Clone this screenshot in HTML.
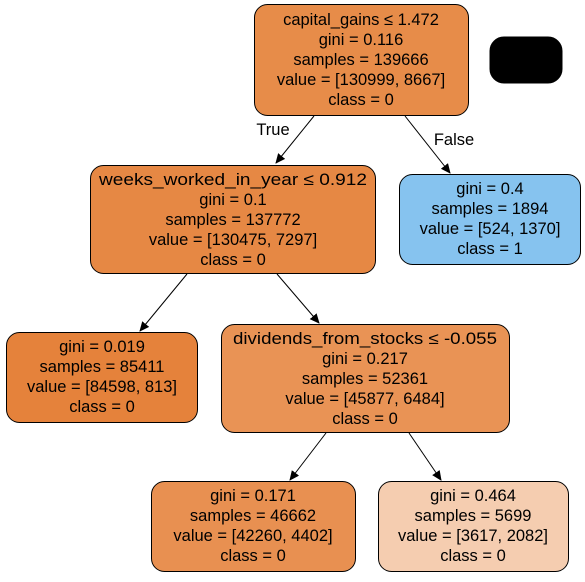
<!DOCTYPE html><html><head><style>body{margin:0;background:#fff}svg text{font-family:"Liberation Sans",Helvetica,sans-serif;font-size:16.5px;text-anchor:middle}</style></head><body>
<svg width="585" height="577" viewBox="0 0 585 577" xmlns="http://www.w3.org/2000/svg">
<defs><marker id="a" markerWidth="10" markerHeight="10" refX="9" refY="5" orient="auto" markerUnits="userSpaceOnUse"><path d="M0,0.5L10,5L0,9.5z" fill="#000"/></marker></defs>
<g stroke="#000" stroke-width="1">
<rect x="254.5" y="4.5" width="214" height="111" rx="13" fill="#e78c49"/>
<rect x="490" y="37" width="72" height="46" rx="14" fill="#000"/>
<rect x="90.5" y="165.5" width="285" height="108" rx="13" fill="#e68844"/>
<rect x="399.5" y="174.5" width="181" height="90" rx="13" fill="#86c3ef"/>
<rect x="6.5" y="332.5" width="191" height="90" rx="13" fill="#e5823b"/>
<rect x="221.5" y="324.5" width="288" height="108" rx="13" fill="#e99355"/>
<rect x="151.5" y="481.5" width="204" height="90" rx="13" fill="#e89051"/>
<rect x="378.5" y="481.5" width="190" height="90" rx="13" fill="#f5cdb0"/>
<line x1="314" y1="116" x2="276" y2="163" marker-end="url(#a)"/>
<line x1="405" y1="116" x2="450" y2="173" marker-end="url(#a)"/>
<line x1="187" y1="274" x2="140" y2="331" marker-end="url(#a)"/>
<line x1="277" y1="274" x2="319" y2="323" marker-end="url(#a)"/>
<line x1="326" y1="433" x2="290" y2="480" marker-end="url(#a)"/>
<line x1="409" y1="433" x2="441" y2="480" marker-end="url(#a)"/>
</g>
<text x="273" y="135">True</text><text x="454" y="145">False</text>
<text x="361"><tspan x="361" y="25">capital_gains ≤ 1.472</tspan><tspan x="361" y="45">gini = 0.116</tspan><tspan x="361" y="65">samples = 139666</tspan><tspan x="361" y="85">value = [130999, 8667]</tspan><tspan x="361" y="105">class = 0</tspan></text>
<text><tspan x="233" y="185" textLength="268" lengthAdjust="spacingAndGlyphs">weeks_worked_in_year ≤ 0.912</tspan><tspan x="233" y="205">gini = 0.1</tspan><tspan x="233" y="225">samples = 137772</tspan><tspan x="233" y="245">value = [130475, 7297]</tspan><tspan x="233" y="265">class = 0</tspan></text>
<text><tspan x="490" y="194">gini = 0.4</tspan><tspan x="490" y="214">samples = 1894</tspan><tspan x="490" y="234">value = [524, 1370]</tspan><tspan x="490" y="254">class = 1</tspan></text>
<text><tspan x="102" y="352">gini = 0.019</tspan><tspan x="102" y="372">samples = 85411</tspan><tspan x="102" y="392">value = [84598, 813]</tspan><tspan x="102" y="412">class = 0</tspan></text>
<text><tspan x="365" y="344" textLength="264" lengthAdjust="spacingAndGlyphs">dividends_from_stocks ≤ -0.055</tspan><tspan x="365" y="364">gini = 0.217</tspan><tspan x="365" y="384">samples = 52361</tspan><tspan x="365" y="404">value = [45877, 6484]</tspan><tspan x="365" y="424">class = 0</tspan></text>
<text><tspan x="253" y="501">gini = 0.171</tspan><tspan x="253" y="521">samples = 46662</tspan><tspan x="253" y="541">value = [42260, 4402]</tspan><tspan x="253" y="561">class = 0</tspan></text>
<text><tspan x="473" y="501">gini = 0.464</tspan><tspan x="473" y="521">samples = 5699</tspan><tspan x="473" y="541">value = [3617, 2082]</tspan><tspan x="473" y="561">class = 0</tspan></text>
</svg></body></html>
